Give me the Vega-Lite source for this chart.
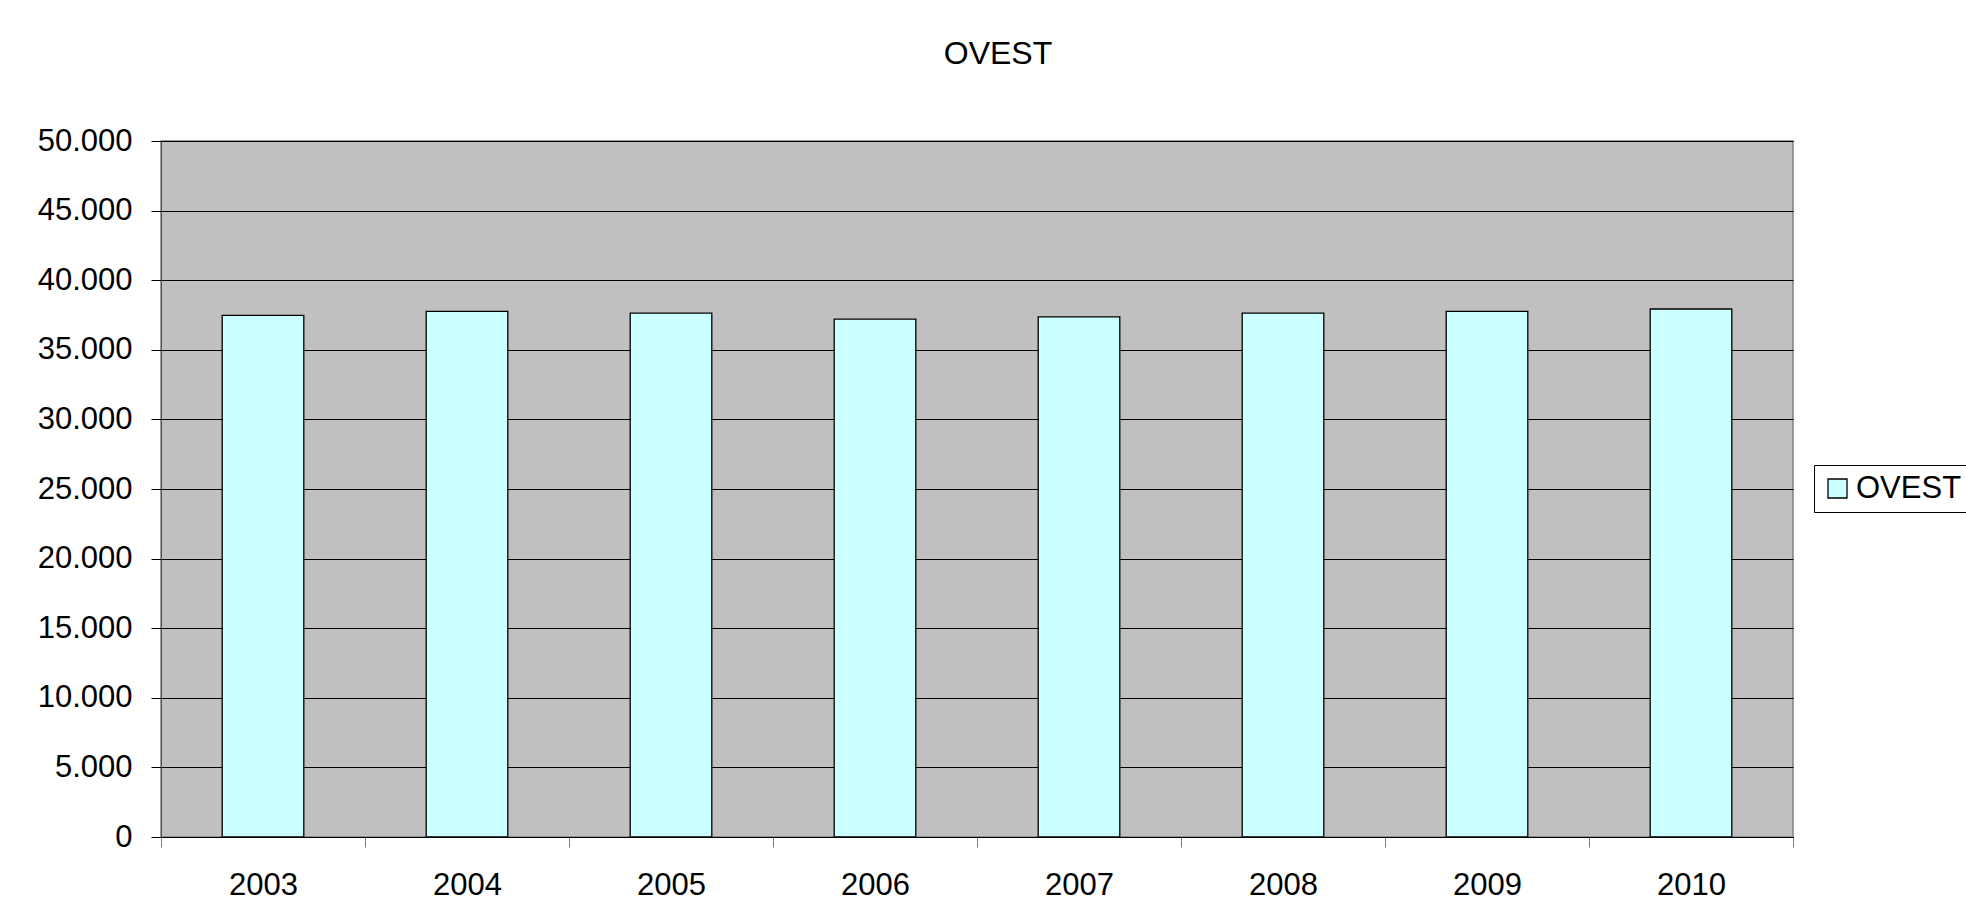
{
  "$schema": "https://vega.github.io/schema/vega-lite/v6.json",
  "autosize": {"type": "none"},
  "padding": {"left": 161, "top": 141, "right": 173, "bottom": 87},
  "width": 1632,
  "height": 696,
  "background": "white",
  "title": {
    "text": "OVEST",
    "font": "Liberation Sans",
    "fontSize": 32,
    "fontWeight": "normal",
    "color": "black",
    "anchor": "middle",
    "frame": "group",
    "baseline": "alphabetic",
    "offset": 29,
    "dx": 21
  },
  "data": {
    "values": [
      {"anno": "2003", "valore": 37470, "serie": "OVEST"},
      {"anno": "2004", "valore": 37760, "serie": "OVEST"},
      {"anno": "2005", "valore": 37640, "serie": "OVEST"},
      {"anno": "2006", "valore": 37210, "serie": "OVEST"},
      {"anno": "2007", "valore": 37370, "serie": "OVEST"},
      {"anno": "2008", "valore": 37640, "serie": "OVEST"},
      {"anno": "2009", "valore": 37760, "serie": "OVEST"},
      {"anno": "2010", "valore": 37930, "serie": "OVEST"}
    ]
  },
  "mark": {"type": "bar", "width": {"band": 0.4}, "stroke": "black", "strokeWidth": 1.3, "opacity": 1},
  "encoding": {
    "x": {
      "field": "anno",
      "type": "nominal",
      "scale": {"paddingInner": 0, "paddingOuter": 0},
      "axis": {
        "title": null,
        "labelAngle": 0,
        "labelFont": "Liberation Sans",
        "labelFontSize": 31,
        "labelColor": "black",
        "labelPadding": 23,
        "tickBand": "extent",
        "tickSize": 10,
        "tickColor": "#808080",
        "domainColor": "black",
        "domainWidth": 1,
        "grid": false
      }
    },
    "y": {
      "field": "valore",
      "type": "quantitative",
      "scale": {"domain": [0, 50000], "nice": false},
      "axis": {
        "title": null,
        "values": [0, 5000, 10000, 15000, 20000, 25000, 30000, 35000, 40000, 45000, 50000],
        "format": ",.0f",
        "labelFont": "Liberation Sans",
        "labelFontSize": 31,
        "labelColor": "black",
        "labelPadding": 19,
        "tickSize": 10,
        "tickColor": "black",
        "domainColor": "#505050",
        "grid": true,
        "gridColor": "black",
        "gridWidth": 1,
        "gridOpacity": 1
      }
    },
    "color": {
      "field": "serie",
      "type": "nominal",
      "scale": {"range": ["#CCFFFF"]},
      "legend": {
        "title": null,
        "orient": "none",
        "legendX": 1653,
        "legendY": 324,
        "strokeColor": "black",
        "fillColor": "white",
        "padding": 8,
        "symbolType": "square",
        "symbolSize": 361,
        "symbolStrokeColor": "black",
        "symbolStrokeWidth": 1.3,
        "symbolOpacity": 1,
        "labelFont": "Liberation Sans",
        "labelFontSize": 31,
        "labelColor": "black",
        "labelOffset": 3
      }
    }
  },
  "config": {
    "locale": {"number": {"decimal": ",", "thousands": ".", "grouping": [3], "currency": ["€", ""]}},
    "view": {"fill": "#C0C0C0", "stroke": "#808080", "strokeWidth": 1.5}
  }
}
